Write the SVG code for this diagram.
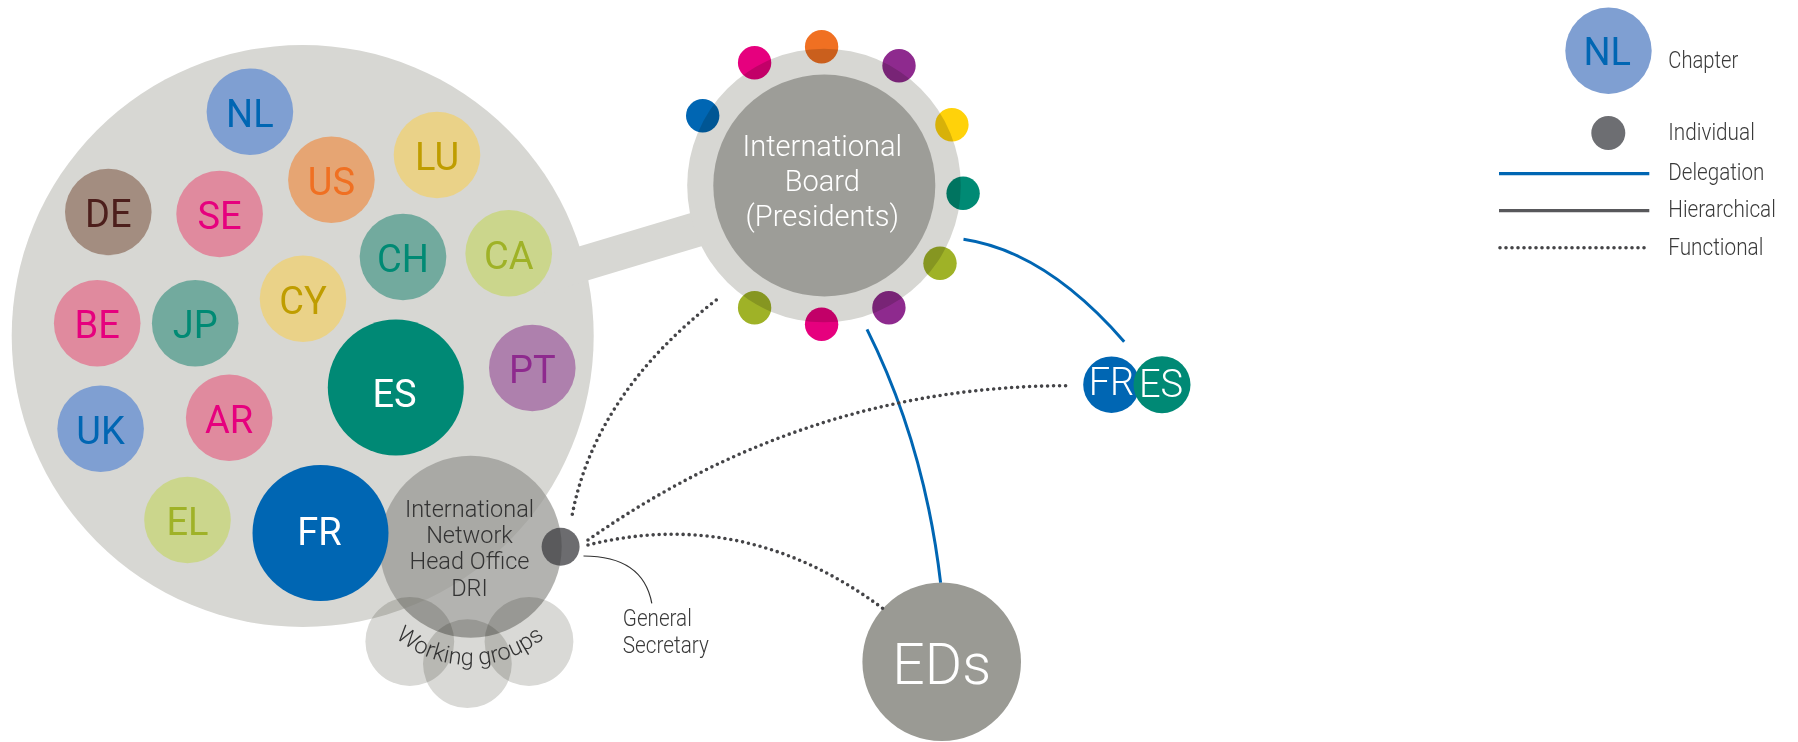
<svg xmlns="http://www.w3.org/2000/svg" width="1798" height="742" viewBox="0 0 1798 742">
<style>
.lbl{font-family:Roboto,"Liberation Sans",sans-serif;font-size:38px;text-anchor:middle}
.lt{font-family:Roboto,"Liberation Sans",sans-serif;font-weight:300}
.leg{font-family:Roboto,"Liberation Sans",sans-serif;font-weight:300;font-size:24px;fill:#3a3a3a}
.bd{mix-blend-mode:multiply}
.deleg{fill:none;stroke:#0066b3;stroke-width:3}
.func{fill:none;stroke:#444447;stroke-width:3.6;stroke-linecap:round;stroke-dasharray:0 6}
.blue{fill:#7f9fd2}.pink{fill:#e08a9e}.yel{fill:#ead288}.teal{fill:#72aa9e}.lime{fill:#cbd68c}
.tblue{fill:#0066b3}.tpink{fill:#e6007e}.tyel{fill:#bf9d00}.tteal{fill:#008a74}.tlime{fill:#9fb227}
</style>
<defs>
<path id="wgArc" d="M 381.9 623.9 A 115 115 0 0 0 558.1 623.9"/>
</defs>
<rect width="1798" height="742" fill="#ffffff"/>

<g id="network">
<circle cx="302.7" cy="336" r="291" fill="#d7d7d3"/>
<line x1="540" y1="276.4" x2="730" y2="219.4" stroke="#d7d7d3" stroke-width="35"/>
</g>

<g id="board">
<circle cx="824" cy="185.5" r="136.8" fill="#d7d7d3"/>
<circle cx="824.3" cy="185.5" r="111" fill="#9d9d98"/>
<g class="bd">
<circle cx="821.6" cy="46.7" r="16.7" fill="#f07022"/>
<circle cx="754.6" cy="62.7" r="16.7" fill="#e6007e"/>
<circle cx="899" cy="65.7" r="16.7" fill="#8e2a8e"/>
<circle cx="702.7" cy="115.7" r="16.7" fill="#0066b3"/>
<circle cx="951.9" cy="124.7" r="16.7" fill="#ffd20a"/>
<circle cx="963.1" cy="193.3" r="16.7" fill="#008a74"/>
<circle cx="940" cy="263.3" r="16.7" fill="#9fb227"/>
<circle cx="888.9" cy="307.7" r="16.7" fill="#8e2a8e"/>
<circle cx="821.6" cy="324.3" r="16.7" fill="#e6007e"/>
<circle cx="754.6" cy="307.7" r="16.7" fill="#9fb227"/>
</g>
<text class="lt" font-size="29" fill="#ffffff" text-anchor="middle"><tspan x="822.3" y="156">International</tspan><tspan x="822.3" y="191">Board</tspan><tspan x="822.3" y="226">(Presidents)</tspan></text>
</g>

<g id="head-office">
<circle cx="470.7" cy="546.7" r="91" fill="#9a9a95" fill-opacity="0.75"/>
</g>
<g id="working-groups">
<circle cx="409.8" cy="641.5" r="44.4" fill="#d9d9d6" class="bd"/>
<circle cx="467.4" cy="663.7" r="44.4" fill="#d9d9d6" class="bd"/>
<circle cx="529" cy="641.5" r="44.4" fill="#d9d9d6" class="bd"/>
<text class="lt" font-size="23.5" fill="#333333"><textPath href="#wgArc" startOffset="50%" text-anchor="middle">Working groups</textPath></text>
</g>

<g id="chapters">
<g id="NL"><circle cx="249.9" cy="111.7" r="43.3" class="blue"/><text x="249.9" y="127" class="lbl tblue">NL</text></g>
<g id="DE"><circle cx="108.3" cy="212" r="43.3" fill="#a38d80"/><text x="108.3" y="226.5" class="lbl" fill="#4d1f1c">DE</text></g>
<g id="SE"><circle cx="219.6" cy="214" r="43.3" class="pink"/><text x="219.6" y="229" class="lbl tpink">SE</text></g>
<g id="US"><circle cx="331.4" cy="179.7" r="43.3" fill="#e6a573"/><text x="331.4" y="195" class="lbl" fill="#f07022">US</text></g>
<g id="LU"><circle cx="437" cy="155" r="43.3" class="yel"/><text x="437" y="170" class="lbl tyel">LU</text></g>
<g id="CH"><circle cx="403" cy="257" r="43.3" class="teal"/><text x="403" y="272" class="lbl tteal">CH</text></g>
<g id="CA"><circle cx="508.7" cy="253.3" r="43.3" class="lime"/><text x="508.7" y="269" class="lbl tlime">CA</text></g>
<g id="BE"><circle cx="97.2" cy="323.3" r="43.3" class="pink"/><text x="97.2" y="338" class="lbl tpink">BE</text></g>
<g id="JP"><circle cx="195.2" cy="323.3" r="43.3" class="teal"/><text x="195.2" y="338" class="lbl tteal">JP</text></g>
<g id="CY"><circle cx="303" cy="298.7" r="43.3" class="yel"/><text x="303" y="313.5" class="lbl tyel">CY</text></g>
<g id="ES"><circle cx="395.8" cy="387.5" r="68" fill="#008975"/><text x="394.5" y="406.7" class="lbl" font-size="44" fill="#ffffff">ES</text></g>
<g id="PT"><circle cx="532.3" cy="368" r="43.3" fill="#ae80ad"/><text x="532.3" y="383.3" class="lbl" fill="#8e2a8e">PT</text></g>
<g id="UK"><circle cx="100.6" cy="428.7" r="43.3" class="blue"/><text x="100.6" y="444" class="lbl tblue">UK</text></g>
<g id="AR"><circle cx="229.2" cy="417.7" r="43.3" class="pink"/><text x="229.2" y="433" class="lbl tpink">AR</text></g>
<g id="EL"><circle cx="187.5" cy="520" r="43.3" class="lime"/><text x="187.5" y="535" class="lbl tlime">EL</text></g>
<g id="FR"><circle cx="320.5" cy="533" r="68" fill="#0066b3"/><text x="319.5" y="545.3" class="lbl" font-size="44" fill="#ffffff">FR</text></g>
</g>

<g id="head-office-label">
<text class="lt" font-size="23.5" fill="#333333" text-anchor="middle"><tspan x="469.5" y="517.3">International</tspan><tspan x="469.5" y="543.3">Network</tspan><tspan x="469.5" y="569.3">Head Office</tspan><tspan x="469.5" y="596">DRI</tspan></text>
</g>

<g id="general-secretary">
<circle cx="560.6" cy="546.7" r="19" fill="#3e3e42" fill-opacity="0.76"/>
<text class="leg" fill="#333333"><tspan x="622.8" y="626" textLength="69" lengthAdjust="spacingAndGlyphs">General</tspan><tspan x="622.8" y="652.7" textLength="86" lengthAdjust="spacingAndGlyphs">Secretary</tspan></text>
</g>

<g id="EDs">
<circle cx="941.7" cy="661.7" r="79.3" fill="#9a9a94"/>
<text x="941.7" y="684" class="lt" font-size="57" fill="#ffffff" text-anchor="middle">EDs</text>
</g>

<g id="FR-ES">
<circle cx="1111.5" cy="384.7" r="28.3" fill="#0066b3"/>
<circle cx="1162" cy="384.7" r="28.5" fill="#008975"/>
<text x="1111.5" y="395" class="lbl" font-size="26" font-weight="300" fill="#ffffff">FR</text>
<text x="1161" y="396.7" class="lbl" font-size="26" font-weight="300" fill="#ffffff">ES</text>
</g>

<g id="connectors">
<path class="deleg" d="M 867 329.3 Q 924.5 444.4 940.6 582.7"/>
<path class="deleg" d="M 963.5 239.3 Q 1045.7 251.5 1124.2 341.7"/>
<path class="func" d="M 572.3 514.3 Q 595.5 393.5 717.5 299"/>
<path class="func" d="M 588 540 Q 809 385 1070.7 385.7"/>
<path class="func" d="M 588 545 Q 745 506 882.6 608.3"/>
<path d="M 583.5 556 Q 643 556 651.8 603.3" fill="none" stroke="#333333" stroke-width="1.2"/>
</g>

<g id="legend">
<circle cx="1608.5" cy="50.7" r="43.2" fill="#7f9fd2"/>
<text x="1607.2" y="65" class="lbl tblue" font-size="37.5">NL</text>
<text x="1668.3" y="68.3" class="leg" textLength="70" lengthAdjust="spacingAndGlyphs">Chapter</text>
<circle cx="1608.3" cy="133" r="17" fill="#6d6e72"/>
<text x="1668.3" y="140" class="leg" textLength="86.5" lengthAdjust="spacingAndGlyphs">Individual</text>
<line x1="1499" y1="173.7" x2="1649.3" y2="173.7" stroke="#0066b3" stroke-width="3.3"/>
<text x="1668.3" y="180" class="leg" textLength="96" lengthAdjust="spacingAndGlyphs">Delegation</text>
<line x1="1499" y1="210.7" x2="1649.3" y2="210.7" stroke="#58585b" stroke-width="3.3"/>
<text x="1668.3" y="217.3" class="leg" textLength="107.5" lengthAdjust="spacingAndGlyphs">Hierarchical</text>
<line x1="1500" y1="247.7" x2="1649.3" y2="247.7" class="func"/>
<text x="1668.3" y="255" class="leg" textLength="95" lengthAdjust="spacingAndGlyphs">Functional</text>
</g>
</svg>
